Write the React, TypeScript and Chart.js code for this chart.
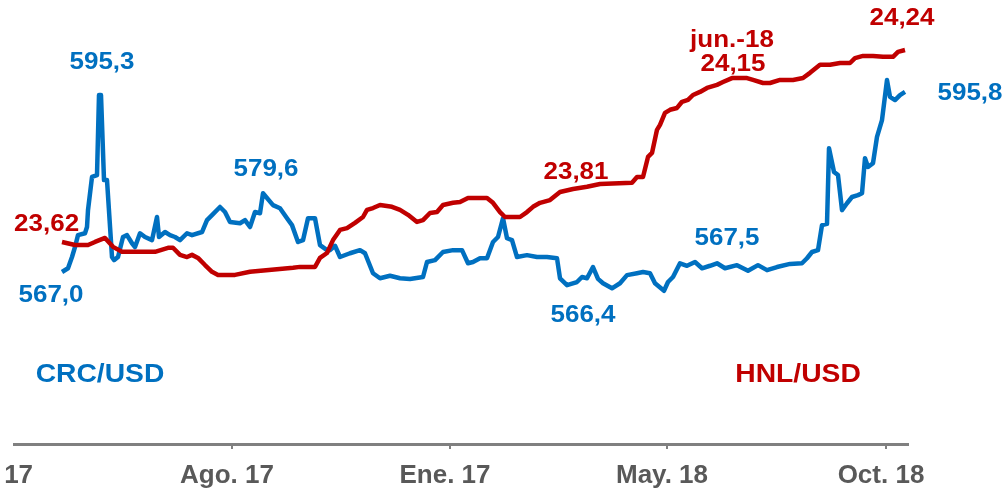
import React, { useEffect, useRef } from "react";
import { Chart, registerables } from "chart.js";

Chart.register(...registerables);

// Trading-day index (x) and CRC/USD values (left axis)
const crcDays = [
  24, 27, 29, 30.5, 32, 35.5, 36.5, 37, 39, 41.5, 42.5, 43.5, 45, 46.5, 49, 50, 52, 54.5, 56.5, 59,
  60.5, 63, 65.5, 69, 71.5, 72.5, 75.5, 78, 80.5, 83, 86.5, 89, 94, 96.5, 99, 103, 105.5, 108, 113, 115.5,
  118, 120.5, 123, 124.5, 129.5, 133, 136.5, 139, 142, 144.5, 147, 150.5, 153, 156.5, 158, 160.5, 163, 168, 173, 175.5,
  179.5, 183, 188, 193, 198, 204.5, 206.5, 210.5, 214.5, 219.5, 224, 227, 229.5, 233, 236.5, 239.5, 242, 244.5, 246.5, 249,
  251.5, 256.5, 261.5, 266.5, 271.5, 273, 276.5, 281.5, 284, 286.5, 289.5, 292, 294.5, 299, 303, 306.5, 311.5, 314.5, 318, 320.5,
  325, 327, 329.5, 333, 336.5, 340.5, 344, 348, 351.5, 355.5, 361.5, 367, 372, 376.5, 381.5, 388, 394, 396.5, 399, 402,
  404, 406.5, 407.5, 410, 412, 414, 416.5, 419, 422, 424, 425.5, 427, 429.5, 431.5, 434, 436.5, 438, 440.5, 443, 445.5,
];
const crcValues = [
  567.0, 567.6, 569.4, 571.0, 572.9, 573.2, 574.2, 576.9, 582.2, 582.5, 595.3, 595.3, 581.7, 581.7, 569.4, 568.9, 569.4, 572.6, 572.9, 571.6,
  571.0, 573.2, 572.6, 572.1, 575.8, 572.6, 573.4, 572.9, 572.6, 572.1, 573.2, 572.9, 573.4, 575.3, 576.1, 577.4, 576.6, 575.0, 574.8, 575.3,
  574.2, 576.6, 576.4, 579.6, 577.7, 577.2, 575.6, 574.5, 571.8, 572.1, 575.6, 575.6, 571.3, 570.5, 570.5, 571.2, 569.4, 570.0, 570.5, 570.0,
  566.8, 566.0, 566.4, 566.0, 565.9, 566.2, 568.6, 568.9, 570.2, 570.5, 570.5, 568.4, 568.6, 569.2, 569.2, 571.8, 572.6, 575.6, 572.4, 572.1,
  569.4, 569.7, 569.4, 569.4, 569.2, 566.0, 564.9, 565.4, 566.2, 566.0, 567.8, 565.9, 565.2, 564.4, 565.2, 566.5, 566.8, 567.0, 566.8, 565.2,
  564.0, 565.4, 566.2, 568.4, 568.0, 568.6, 567.6, 568.0, 568.4, 567.6, 568.1, 567.2, 568.1, 567.3, 567.8, 568.3, 568.4, 569.2, 570.2, 570.5,
  574.5, 574.7, 586.8, 583.0, 582.5, 576.9, 578.0, 579.0, 579.3, 579.6, 585.2, 583.8, 584.4, 588.6, 591.3, 597.7, 595.0, 594.5, 595.3, 595.8,
];

// Trading-day index (x) and HNL/USD values (right axis)
const hnlDays = [
  24, 30.5, 37, 40.5, 45.5, 49.5, 54, 60.5, 70.5, 77, 79.5, 83, 86.5, 89, 92, 95.5, 99, 102, 110.5, 118,
  139.5, 143, 150.5, 153, 156.5, 159.5, 163, 166.5, 170.5, 174.5, 176.5, 179.5, 183, 189, 193, 197, 201.5, 204.5, 208, 211.5,
  214.5, 219.5, 223, 227, 236.5, 239.5, 243, 245.5, 253, 256.5, 259.5, 263, 268, 273, 279.5, 286.5, 293, 309, 311.5, 314.5,
  317, 319, 321.5, 323, 325.5, 328, 331.5, 334, 337, 339.5, 343, 346.5, 351.5, 354.5, 359, 366.5, 369.5, 374.5, 378, 383,
  389.5, 394.5, 398, 403, 408, 413, 418, 420.5, 424.5, 429.5, 434.5, 439.5, 442, 445.5,
];
const hnlValues = [
  23.620, 23.610, 23.610, 23.620, 23.633, 23.604, 23.588, 23.588, 23.588, 23.601, 23.601, 23.578, 23.571, 23.578, 23.568, 23.545, 23.523, 23.513, 23.513, 23.523,
  23.536, 23.539, 23.539, 23.568, 23.584, 23.626, 23.659, 23.665, 23.682, 23.701, 23.724, 23.730, 23.740, 23.734, 23.724, 23.708, 23.685, 23.691, 23.714, 23.717,
  23.740, 23.747, 23.750, 23.763, 23.763, 23.747, 23.717, 23.701, 23.701, 23.717, 23.734, 23.747, 23.756, 23.782, 23.792, 23.799, 23.808, 23.812, 23.831, 23.831,
  23.896, 23.909, 23.984, 24.000, 24.039, 24.049, 24.055, 24.075, 24.081, 24.097, 24.107, 24.120, 24.130, 24.139, 24.152, 24.152, 24.146, 24.136, 24.136, 24.146,
  24.146, 24.152, 24.169, 24.195, 24.195, 24.201, 24.201, 24.217, 24.224, 24.224, 24.221, 24.221, 24.237, 24.243,
];

const tickDays = [-10, 109, 218, 326.5, 436];
const tickLabels = ["Mar. 17", "Ago. 17", "Ene. 17", "May. 18", "Oct. 18"];

const BLUE = "#0070C0";
const RED = "#C00000";
const GREY_TEXT = "#595959";
const GREY_AXIS = "#808080";

const annotationTexts = ["595,3", "567,0", "23,62", "579,6", "566,4", "23,81", "jun.-18", "24,15", "24,24", "567,5", "595,8", "CRC/USD", "HNL/USD"];

const annotationPlacement = [
  { axis: "yCrc", day: 44, value: 600.4, color: BLUE, size: 23 },
  { axis: "yCrc", day: 18.5, value: 563.3, color: BLUE, size: 23 },
  { axis: "yHnl", day: 16.3, value: 23.677, color: RED, size: 23 },
  { axis: "yCrc", day: 126, value: 583.3, color: BLUE, size: 23 },
  { axis: "yCrc", day: 284.5, value: 560.1, color: BLUE, size: 23 },
  { axis: "yHnl", day: 281, value: 23.844, color: RED, size: 23 },
  { axis: "yHnl", day: 359, value: 24.273, color: RED, size: 23 },
  { axis: "yHnl", day: 359.5, value: 24.195, color: RED, size: 23 },
  { axis: "yHnl", day: 444, value: 24.344, color: RED, size: 23 },
  { axis: "yCrc", day: 356.5, value: 572.4, color: BLUE, size: 23 },
  { axis: "yCrc", day: 478, value: 595.5, color: BLUE, size: 23 },
  { axis: "yCrc", day: 43, value: 550.5, color: BLUE, size: 25 },
  { axis: "yHnl", day: 392, value: 23.188, color: RED, size: 25 },
];

const STRETCH = 1.13;

const labelPlugin = {
  id: "valueLabels",
  afterDatasetsDraw(chart: any) {
    const ctx = chart.ctx;
    const xs = chart.scales.x;
    annotationTexts.forEach((text, i) => {
      const a = annotationPlacement[i];
      const px = xs.getPixelForValue(a.day);
      const py = chart.scales[a.axis].getPixelForValue(a.value);
      ctx.save();
      ctx.translate(px, py);
      ctx.scale(STRETCH, 1);
      ctx.font = `bold ${a.size}px "Liberation Sans", Arial, sans-serif`;
      ctx.fillStyle = a.color;
      ctx.textAlign = "center";
      ctx.textBaseline = "middle";
      ctx.fillText(text, 0, 0);
      ctx.restore();
    });
  },
};

export default function App() {
  const ref = useRef<HTMLCanvasElement>(null);

  useEffect(() => {
    const chart = new Chart(ref.current as HTMLCanvasElement, {
      type: "line",
      data: {
        datasets: [
          {
            label: "HNL/USD",
            data: hnlDays.map((d, i) => ({ x: d, y: hnlValues[i] })),
            yAxisID: "yHnl",
            borderColor: RED,
            backgroundColor: RED,
            borderWidth: 4.5,
            pointRadius: 0,
            tension: 0,
            borderJoinStyle: "round",
            order: 0,
          },
          {
            label: "CRC/USD",
            data: crcDays.map((d, i) => ({ x: d, y: crcValues[i] })),
            yAxisID: "yCrc",
            borderColor: BLUE,
            backgroundColor: BLUE,
            borderWidth: 4.5,
            pointRadius: 0,
            tension: 0,
            borderJoinStyle: "round",
            order: 1,
          },
        ],
      },
      options: {
        animation: false,
        responsive: false,
        layout: { padding: { left: 114, right: 99, top: 10, bottom: 0 } },
        plugins: { legend: { display: false }, tooltip: { enabled: false } },
        scales: {
          x: {
            type: "linear",
            min: 0,
            max: 447,
            afterBuildTicks: (scale: any) => {
              scale.ticks = tickDays.map((v) => ({ value: v }));
            },
            afterFit: (scale: any) => {
              scale.height = 48;
            },
            ticks: {
              autoSkip: false,
              maxRotation: 0,
              minRotation: 0,
              padding: 11,
              labelOffset: -5,
              color: GREY_TEXT,
              font: { family: '"Liberation Sans", Arial, sans-serif', size: 26, weight: "bold", lineHeight: 1.2 },
              callback: (_v: any, index: number) => tickLabels[index],
            },
            grid: { drawOnChartArea: false, drawTicks: true, tickLength: 5, color: GREY_AXIS, lineWidth: 2 },
            border: { display: true, color: GREY_AXIS, width: 3 },
          },
          yCrc: { type: "linear", position: "left", display: false, min: 539.5, max: 608.9 },
          yHnl: { type: "linear", position: "right", display: false, min: 22.964, max: 24.373 },
        },
      },
      plugins: [labelPlugin],
    } as any);
    return () => chart.destroy();
  }, []);

  return (
    <div style={{ position: "absolute", left: -100, top: 0, width: 1107, height: 492 }}>
      <canvas ref={ref} width={1107} height={492} style={{ display: "block" }} />
    </div>
  );
}
